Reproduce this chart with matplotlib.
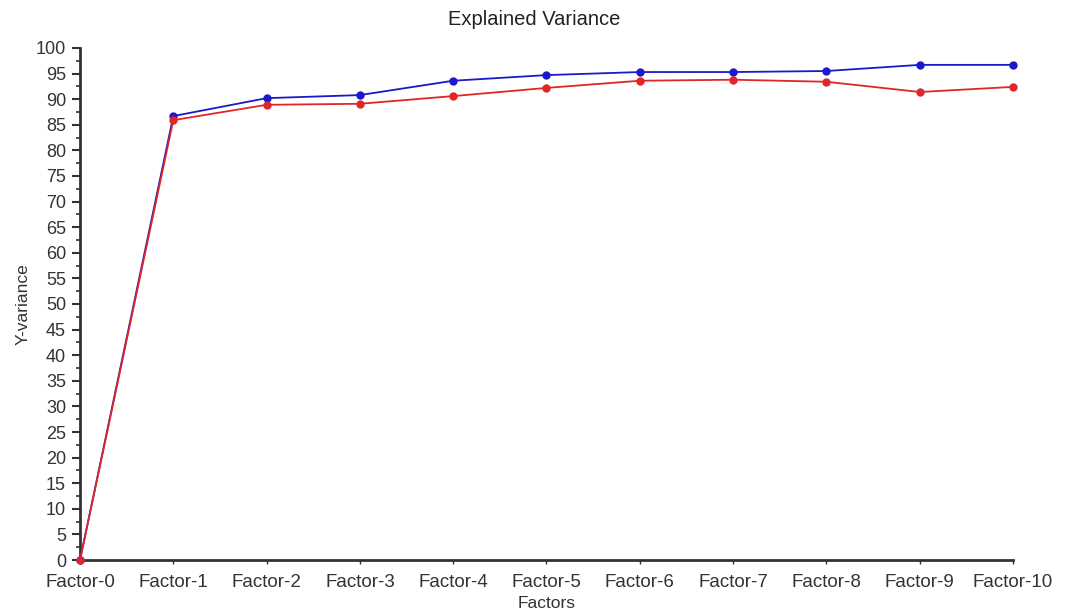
#!/usr/bin/env python3
"""Explained variance per factor"""

import matplotlib
matplotlib.use("Agg")
import matplotlib.pyplot as plt
from matplotlib.ticker import MultipleLocator

plt.rcParams['font.family'] = ['Liberation Sans', 'DejaVu Sans']

factors = ['Factor-%d' % i for i in range(11)]
blue_vals = [0, 86.7, 90.2, 90.8, 93.6, 94.7, 95.3, 95.3, 95.5, 96.7, 96.7]
red_vals = [0, 85.9, 88.9, 89.1, 90.6, 92.2, 93.6, 93.8, 93.4, 91.4, 92.4]

fig = plt.figure(figsize=(10.68, 6.15), dpi=100)
ax = fig.add_axes([0.0749, 0.0894, 0.8736, 0.8326])

x = list(range(len(factors)))
ax.plot(x, blue_vals, color='#1a1ac8', lw=1.3, marker='o', ms=5, clip_on=False, zorder=3)
ax.plot(x, red_vals, color='#e02626', lw=1.3, marker='o', ms=5, clip_on=False, zorder=4)

ax.set_xlim(0, 10)
ax.set_ylim(0, 100)
ax.set_xticks(x)
ax.set_xticklabels(factors, fontsize=13.5, color='#333333')
ax.yaxis.set_major_locator(MultipleLocator(5))
ax.yaxis.set_minor_locator(MultipleLocator(2.5))
ax.tick_params(axis='y', labelsize=13, labelcolor='#333333', length=6, width=1.5,
               color='#333333', pad=4)
ax.tick_params(axis='y', which='minor', length=3, width=1.2, color='#333333')
ax.tick_params(axis='x', length=3, width=1, color='#333333', pad=7)

for side in ['top', 'right']:
    ax.spines[side].set_visible(False)
for side in ['left', 'bottom']:
    ax.spines[side].set_color('#333333')
    ax.spines[side].set_linewidth(2)

ax.set_xlabel('Factors', fontsize=12.5, color='#333333', labelpad=4)
ax.set_ylabel('Y-variance', fontsize=12.5, color='#333333', labelpad=4)
fig.text(0.5, 0.968, 'Explained Variance', fontsize=14.5, color='#222222',
         ha='center', va='center')

plt.savefig('out.png', dpi=100)
plt.close()
